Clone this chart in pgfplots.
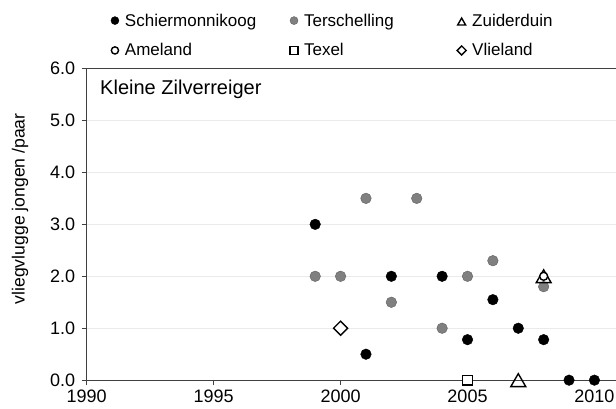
\documentclass[border=0pt]{standalone}
\usepackage{fontspec}
\setmainfont{Liberation Sans}
\usepackage{pgfplots}
\pgfplotsset{compat=1.18}
\definecolor{axgray}{HTML}{404040}
\definecolor{gridgray}{HTML}{EAEAEA}
\definecolor{tersfill}{HTML}{808080}
\definecolor{tersedge}{HTML}{606060}

\pgfplotsset{
  limg/.style={legend image code/.code={\draw[##1, mark size=#1] plot coordinates {(0bp,0bp)};}},
}

\begin{document}
\begin{tikzpicture}
\begin{axis}[
  name=ax,
  scale only axis,
  width=529bp, height=311.5bp,
  xmin=1990, xmax=2010.85,
  ymin=0, ymax=6,
  xtick={1990,1995,...,2010},
  ytick={0,1,...,6},
  axis x line*=bottom, axis y line*=left,
  axis line style={draw=axgray, line width=1bp, -},
  tick style={draw=axgray, line width=1bp},
  tick align=outside,
  major tick length=5bp,
  ymajorgrids,
  grid style={draw=gridgray, line width=0.8bp},
  tick label style={font=\fontsize{18bp}{21bp}\selectfont},
  /pgf/number format/assume math mode=true,
  x tick label style={inner sep=1bp, yshift=-4bp, /pgf/number format/1000 sep={}},
  y tick label style={xshift=-3bp, /pgf/number format/fixed,
    /pgf/number format/fixed zerofill, /pgf/number format/precision=1},
  ylabel={vliegvlugge jongen /paar},
  ylabel style={at={(ticklabel cs:0.55,15bp)}, font=\fontsize{17.6bp}{21bp}\selectfont},
  clip=false,
  legend columns=3,
  legend cell align=left,
  legend style={draw=none, fill=none, at={(0,1)}, anchor=south west,
    xshift=21bp, yshift=9bp,
    font=\fontsize{17bp}{20bp}\selectfont,
    nodes={inner sep=0pt},
    row sep=16bp,
    /tikz/every odd column/.append style={column sep=6bp},
    /tikz/every even column/.append style={column sep=0bp}},
]

\addplot[only marks, mark=*, mark size=5.3bp, draw=black, fill=black, limg=4bp]
  coordinates {(1999,3.0) (2001,0.5) (2002,2.0) (2004,2.0) (2005,0.78)
               (2006,1.55) (2007,1.0) (2008,0.78) (2009,0) (2010,0)};
\addlegendentry{\makebox[165bp][l]{Schiermonnikoog}}

\addplot[only marks, mark=*, mark size=5.3bp, draw=tersedge, fill=tersfill, limg=4bp]
  coordinates {(1999,2.0) (2000,2.0) (2001,3.5) (2002,1.5) (2003,3.5)
               (2004,1.0) (2005,2.0) (2006,2.3) (2008,1.8)};
\addlegendentry{\makebox[153bp][l]{Terschelling}}

\addplot[only marks, mark=triangle, mark size=8.6bp, draw=black, fill=white,
  mark options={line width=1.4bp, yshift=-2.1bp}, limg=4.6bp]
  coordinates {(2007,0) (2008,2.0)};
\addlegendentry{Zuiderduin}

\addplot[only marks, mark=*, mark size=4bp, draw=black, fill=white,
  mark options={line width=1.4bp}, limg=3.6bp]
  coordinates {(2008,2.0)};
\addlegendentry{Ameland}

\addplot[only marks, mark=square*, mark size=4.8bp, draw=black, fill=white,
  mark options={line width=1.4bp}, limg=4bp]
  coordinates {(2005,0)};
\addlegendentry{Texel}

\addplot[only marks, mark=square*, mark size=5bp, draw=black, fill=white,
  mark options={line width=1.4bp, rotate=45}, limg=3.2bp]
  coordinates {(2000,1.0)};
\addlegendentry{Vlieland}

\draw[axgray, line width=1bp] (rel axis cs:0,1) -- (rel axis cs:1,1);
\node[anchor=base west, xshift=13.3bp, yshift=-25.8bp, inner sep=0pt,
  font=\fontsize{20bp}{24bp}\selectfont] at (rel axis cs:0,1) {Kleine Zilverreiger};
\end{axis}
\pgfresetboundingbox
\path[use as bounding box] ([shift={(-86.7bp,-28bp)}]ax.south west) rectangle ([shift={(0bp,68.5bp)}]ax.north east);
\end{tikzpicture}
\end{document}
